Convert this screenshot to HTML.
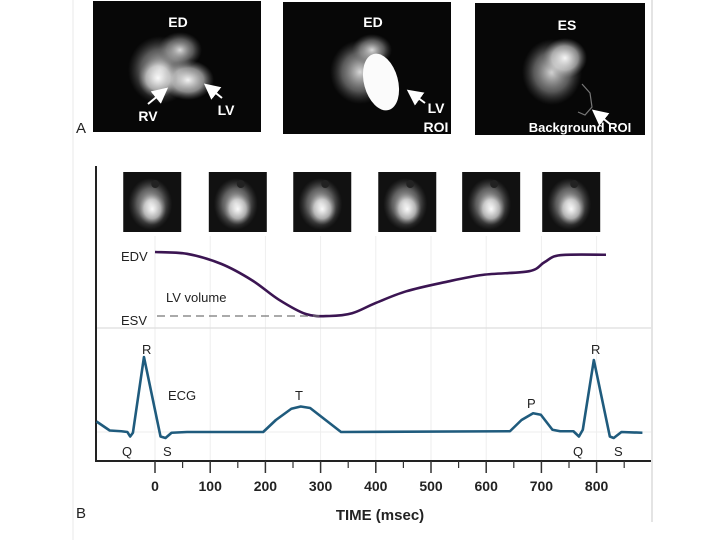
<!DOCTYPE html>
<html><head><meta charset="utf-8"><style>
html,body{margin:0;padding:0;background:#fff;}
svg{display:block;font-family:"Liberation Sans",Arial,sans-serif;}
</style></head><body>
<svg id="fig" width="720" height="540" viewBox="0 0 720 540">
<defs>
<radialGradient id="blob" cx="50%" cy="50%" r="50%"><stop offset="0" stop-color="#fff" stop-opacity="0.95"/><stop offset="0.6" stop-color="#ddd" stop-opacity="0.6"/><stop offset="1" stop-color="#888" stop-opacity="0"/></radialGradient>
<radialGradient id="blob2" cx="50%" cy="50%" r="50%"><stop offset="0" stop-color="#eee" stop-opacity="0.9"/><stop offset="0.6" stop-color="#aaa" stop-opacity="0.5"/><stop offset="1" stop-color="#666" stop-opacity="0"/></radialGradient>
<marker id="ah" markerWidth="8" markerHeight="8" refX="6" refY="4" orient="auto"><path d="M0,0 L8,4 L0,8 z" fill="#fff"/></marker>
</defs>
<line x1="73" y1="0" x2="73" y2="540" stroke="#e8e8e8"/>
<line x1="652" y1="0" x2="652" y2="522" stroke="#e4e4e4" stroke-width="2"/>

<g>
<rect x="93" y="1" width="168" height="131" fill="#070707"/>
<ellipse cx="160" cy="70" rx="32" ry="34" fill="url(#blob2)"/>
<ellipse cx="180" cy="50" rx="22" ry="18" fill="url(#blob2)"/>
<ellipse cx="188" cy="80" rx="26" ry="20" fill="url(#blob)"/>
<ellipse cx="158" cy="78" rx="20" ry="20" fill="url(#blob)"/>
<text x="178" y="27" fill="#fff" font-weight="bold" font-size="14" text-anchor="middle">ED</text>
<line x1="148" y1="104" x2="165" y2="90" stroke="#fff" stroke-width="2" marker-end="url(#ah)"/>
<line x1="222" y1="98" x2="207" y2="86" stroke="#fff" stroke-width="2" marker-end="url(#ah)"/>
<text x="148" y="121" fill="#fff" font-weight="bold" font-size="14" text-anchor="middle">RV</text>
<text x="226" y="115" fill="#fff" font-weight="bold" font-size="14" text-anchor="middle">LV</text>
</g>
<g>
<rect x="283" y="2" width="168" height="132" fill="#070707"/>
<ellipse cx="360" cy="72" rx="30" ry="32" fill="url(#blob2)"/>
<ellipse cx="372" cy="50" rx="20" ry="16" fill="url(#blob2)"/>
<ellipse cx="381" cy="82" rx="17" ry="29" transform="rotate(-15 381 82)" fill="#fbfbfb"/>
<text x="373" y="27" fill="#fff" font-weight="bold" font-size="14" text-anchor="middle">ED</text>
<line x1="425" y1="103" x2="410" y2="92" stroke="#fff" stroke-width="2" marker-end="url(#ah)"/>
<text x="436" y="113" fill="#fff" font-weight="bold" font-size="14" text-anchor="middle">LV</text>
<text x="436" y="132" fill="#fff" font-weight="bold" font-size="14" text-anchor="middle">ROI</text>
</g>
<g>
<rect x="475" y="3" width="170" height="132" fill="#070707"/>
<ellipse cx="552" cy="72" rx="30" ry="33" fill="url(#blob2)"/>
<ellipse cx="565" cy="58" rx="22" ry="20" fill="url(#blob)"/>
<polyline points="582,84 590,93 592,107 585,115 578,112" fill="none" stroke="#777" stroke-width="1.2"/>
<text x="567" y="30" fill="#fff" font-weight="bold" font-size="14" text-anchor="middle">ES</text>
<line x1="610" y1="124" x2="595" y2="112" stroke="#fff" stroke-width="2" marker-end="url(#ah)"/>
<text x="580" y="132" fill="#fff" font-weight="bold" font-size="13" text-anchor="middle">Background ROI</text>
</g>
<text x="76" y="133" font-size="15" fill="#222">A</text>

<g id="thumbs"></g>
<g id="grid"></g>
<line x1="96" y1="328" x2="651" y2="328" stroke="#ddd" stroke-width="1.2"/>
<line x1="96" y1="432" x2="651" y2="432" stroke="#eee"/>
<line x1="96" y1="166" x2="96" y2="462" stroke="#222" stroke-width="2"/>
<line x1="95" y1="461" x2="651" y2="461" stroke="#222" stroke-width="2"/>
<g id="ticks"></g>
<path id="vol" fill="none" stroke="#3b1552" stroke-width="2.6"/>
<path id="ecg" fill="none" stroke="#1f5b7d" stroke-width="2.6" stroke-linejoin="round"/>
<line id="esvdash" y1="316" y2="316" stroke="#777" stroke-width="1.3" stroke-dasharray="8,5"/>
<g font-size="13" fill="#222">
<text x="121" y="261">EDV</text>
<text x="121" y="325">ESV</text>
<text x="166" y="302">LV volume</text>
<text x="142" y="354">R</text>
<text x="168" y="400">ECG</text>
<text x="295" y="400">T</text>
<text x="527" y="408">P</text>
<text x="122" y="456">Q</text>
<text x="163" y="456">S</text>
<text x="591" y="354">R</text>
<text x="573" y="456">Q</text>
<text x="614" y="456">S</text>
</g>
<text x="76" y="518" font-size="15" fill="#222">B</text>
<text x="380" y="520" font-size="15" font-weight="bold" fill="#222" text-anchor="middle">TIME (msec)</text>
</svg>
<script>
const tickLabels=[0,100,200,300,400,500,600,700,800];
const minorTicks=[50,150,250,350,450,550,650,750,850];
const volTimes=[0,58,120,176,224,274,316,357,399,455,525,594,678,706,734,817];
const volValues=[120,118,107,89,68,52,50,53,64,77,87,95,99,109,116.5,117];
const ecgTimes=[-106,-82,-61,-50,-45,-40,-20,10,19,30,58,196,219,247,264,281,309,337,643,664,685,699,720,734,758,768,775,795,824,831,845,883];
const ecgValues=[0.14,0.02,0.01,0,-0.06,-0.01,1.0,-0.06,-0.08,-0.01,0,0,0.16,0.31,0.34,0.32,0.16,0,0.01,0.16,0.25,0.23,0.03,0.01,0.01,-0.06,0.03,0.96,-0.06,-0.08,0,-0.01];
const thumbTimes=[-5,150,303,457,609,754];
const NS='http://www.w3.org/2000/svg';
const xs=t=>155+t*0.552;
const yv=v=>316-(v-50)/70*64;
const ye=v=>432-v*75;
function mk(tag,attrs,parent){const e=document.createElementNS(NS,tag);for(const k in attrs)e.setAttribute(k,attrs[k]);parent.appendChild(e);return e;}
function smooth(pts){let d='M'+pts[0][0]+','+pts[0][1];for(let i=0;i<pts.length-1;i++){const p0=pts[i-1]||pts[i],p1=pts[i],p2=pts[i+1],p3=pts[i+2]||p2;const c1x=p1[0]+(p2[0]-p0[0])/6,c1y=p1[1]+(p2[1]-p0[1])/6,c2x=p2[0]-(p3[0]-p1[0])/6,c2y=p2[1]-(p3[1]-p1[1])/6;d+=' C'+c1x+','+c1y+' '+c2x+','+c2y+' '+p2[0]+','+p2[1];}return d;}
const grid=document.getElementById('grid'),ticks=document.getElementById('ticks'),thumbs=document.getElementById('thumbs');
tickLabels.forEach(t=>{
 const g=mk('line',{x1:xs(t),x2:xs(t),y1:236,y2:461,stroke:'#eee'},grid);
 
 
 const l=mk('line',{x1:xs(t),x2:xs(t),y1:461,y2:473,stroke:'#333','stroke-width':1.5},ticks);
 
 
 const tx=mk('text',{x:xs(t),y:491,'text-anchor':'middle','font-size':14,'font-weight':'bold',fill:'#222'},ticks);
 tx.textContent=t;
 
 
});
minorTicks.forEach(t=>{
 const l=mk('line',{x1:xs(t),x2:xs(t),y1:461,y2:468,stroke:'#333','stroke-width':1.2},ticks);
 
 
});
thumbTimes.forEach(t=>{
 const cx=xs(t);
 const g=mk('g',{},thumbs);
 
 
 mk('rect',{x:cx-29,y:172,width:58,height:60,fill:'#111'},g);
 mk('ellipse',{cx:cx-2,cy:204,rx:22,ry:26,fill:'url(#blob2)'},g);
 mk('ellipse',{cx:cx,cy:209,rx:14,ry:16,fill:'url(#blob)'},g);
 mk('ellipse',{cx:cx+3,cy:184,rx:4,ry:4,fill:'#222'},g);
});
document.getElementById('vol').setAttribute('d',smooth(volTimes.map((t,i)=>[xs(t),yv(volValues[i])])));
document.getElementById('ecg').setAttribute('d','M'+ecgTimes.map((t,i)=>xs(t)+','+ye(ecgValues[i])).join(' L'));
const minV=Math.min(...volValues);const ti=volValues.indexOf(minV);
const dl=document.getElementById('esvdash');dl.setAttribute('x1',157);dl.setAttribute('x2',xs(volTimes[ti])-10);
</script>
</body></html>
